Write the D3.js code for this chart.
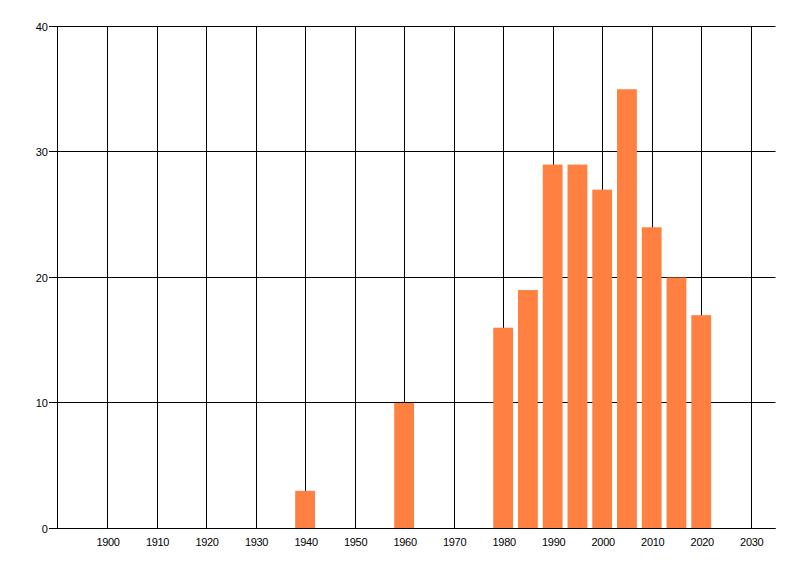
<!DOCTYPE html>
<html><head><meta charset="utf-8">
<script src="https://cdn.jsdelivr.net/npm/d3@7"></script>
<style>body{margin:0;background:#fff}svg{display:block}text{font-family:"Liberation Sans",Arial,sans-serif;font-size:11px;letter-spacing:-0.3px;fill:#000}</style>
</head><body><svg id="c" width="800" height="576"></svg>
<script>
const years = [1940, 1960, 1980, 1985, 1990, 1995, 2000, 2005, 2010, 2015, 2020];
const counts = [3, 10, 16, 19, 29, 29, 27, 35, 24, 20, 17];
const xTicks = [1900, 1910, 1920, 1930, 1940, 1950, 1960, 1970, 1980, 1990, 2000, 2010, 2020, 2030];
const yTicks = [0, 10, 20, 30, 40];

const svg = d3.select("#c");
const x = d3.scaleLinear().domain([1890, 2035]).range([57.5, 775.5]);
const y = d3.scaleLinear().domain([0, 40]).range([528.5, 26.5]);
const barW = 4;
const sy = d => Math.floor(y(d) - 0.01) + 0.5;

// vertical grid
svg.append("g").selectAll("line").data(xTicks).join("line")
  .attr("x1", d => Math.round(x(d)) + 0.5).attr("x2", d => Math.round(x(d)) + 0.5)
  .attr("y1", sy(40)).attr("y2", sy(0)).attr("stroke", "#000");
// horizontal grid
svg.append("g").selectAll("line").data(yTicks).join("line")
  .attr("x1", 49).attr("x2", x(2035))
  .attr("y1", d => sy(d)).attr("y2", d => sy(d)).attr("stroke", "#000");
// left axis line
svg.append("line").attr("x1", 57.5).attr("x2", 57.5).attr("y1", sy(40)).attr("y2", sy(0)).attr("stroke", "#000");

// bars
svg.append("g").selectAll("rect").data(years).join("rect")
  .attr("x", (d) => x(d - barW / 2))
  .attr("width", (d) => x(d + barW / 2) - x(d - barW / 2))
  .attr("y", (d, i) => y(counts[i]))
  .attr("height", (d, i) => y(0) - y(counts[i]))
  .attr("fill", "#FF8040");

// bottom axis line over bars
svg.append("line").attr("x1", 49).attr("x2", x(2035)).attr("y1", sy(0)).attr("y2", sy(0)).attr("stroke", "#000");

// x labels
svg.append("g").selectAll("text").data(xTicks).join("text")
  .attr("x", d => x(d) + 1).attr("y", 545.5).attr("text-anchor", "middle").text(d => d);
// y labels
svg.append("g").selectAll("text").data(yTicks).join("text")
  .attr("x", 47.5).attr("y", d => y(d) + 4).attr("text-anchor", "end").text(d => d);
</script></body></html>
